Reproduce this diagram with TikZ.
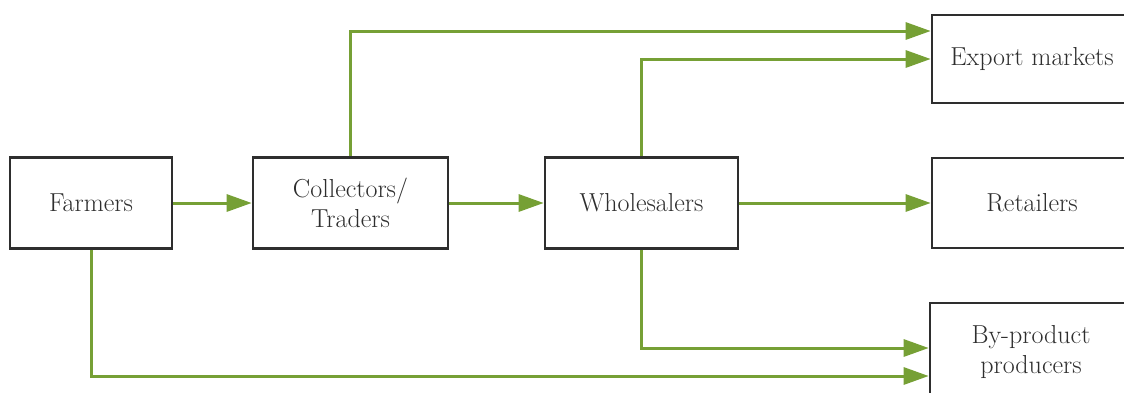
\documentclass[tikz,border=0pt]{standalone}
\usetikzlibrary{arrows.meta}
\definecolor{flowgreen}{HTML}{76A035}
\definecolor{boxgray}{HTML}{2E2E2E}
\tikzset{
  box/.style={draw=boxgray, line width=2.6pt, fill=white, text=boxgray,
    minimum height=91pt, inner sep=0pt, align=center,
    font=\fontsize{26}{30}\selectfont},
  flow/.style={draw=flowgreen, line width=3pt,
    -{Triangle[length=25pt,width=17pt]}}
}
\begin{document}
\begin{tikzpicture}[x=1pt,y=-1pt]
\useasboundingbox (0,0) rectangle (1124,392);
\clip (0,0) rectangle (1124,392);
\node[box, minimum width=162pt] (farm) at (91,203) {Farmers};
\node[box, minimum width=195pt] (coll) at (350.5,203) {Collectors/\\Traders};
\node[box, minimum width=193pt] (whole) at (641.5,203) {Wholesalers};
\node[box, minimum width=200pt, minimum height=88pt] (export) at (1032,59) {Export markets};
\node[box, minimum width=200pt, minimum height=90pt] (retail) at (1032,203) {Retailers};
\node[box, minimum width=202pt, minimum height=98pt] (byprod) at (1031,352) {By-product\\producers};

\draw[flow] (farm.east) -- (coll.west);
\draw[flow] (coll.east) -- (whole.west);
\draw[flow] (whole.east) -- (retail.west);
\draw[flow] (coll.north) |- ([yshift=28pt]export.west);
\draw[flow] (whole.north) |- (export.west);
\draw[flow] (whole.south) |- ([yshift=4pt]byprod.west);
\draw[flow] (farm.south) |- ([yshift=-24pt]byprod.west);
\end{tikzpicture}
\end{document}
